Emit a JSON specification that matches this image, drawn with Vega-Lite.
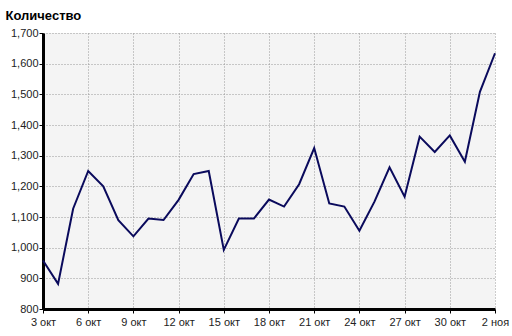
{
  "$schema": "https://vega.github.io/schema/vega-lite/v6.json",
  "width": 452,
  "height": 276,
  "autosize": "none",
  "padding": {"left": 43, "top": 33, "right": 17, "bottom": 27},
  "background": "white",
  "config": {
    "view": {"fill": "#f4f4f4", "stroke": null},
    "font": "Liberation Sans"
  },
  "data": {
    "values": [
      {"date": "2008-10-03", "count": 958},
      {"date": "2008-10-04", "count": 882},
      {"date": "2008-10-05", "count": 1127},
      {"date": "2008-10-06", "count": 1250},
      {"date": "2008-10-07", "count": 1200},
      {"date": "2008-10-08", "count": 1090},
      {"date": "2008-10-09", "count": 1037},
      {"date": "2008-10-10", "count": 1095},
      {"date": "2008-10-11", "count": 1090},
      {"date": "2008-10-12", "count": 1156},
      {"date": "2008-10-13", "count": 1240},
      {"date": "2008-10-14", "count": 1250},
      {"date": "2008-10-15", "count": 993},
      {"date": "2008-10-16", "count": 1095},
      {"date": "2008-10-17", "count": 1095},
      {"date": "2008-10-18", "count": 1157},
      {"date": "2008-10-19", "count": 1134},
      {"date": "2008-10-20", "count": 1207},
      {"date": "2008-10-21", "count": 1325},
      {"date": "2008-10-22", "count": 1144},
      {"date": "2008-10-23", "count": 1134},
      {"date": "2008-10-24", "count": 1055},
      {"date": "2008-10-25", "count": 1150},
      {"date": "2008-10-26", "count": 1262},
      {"date": "2008-10-27", "count": 1166},
      {"date": "2008-10-28", "count": 1362},
      {"date": "2008-10-29", "count": 1312},
      {"date": "2008-10-30", "count": 1366},
      {"date": "2008-10-31", "count": 1280},
      {"date": "2008-11-01", "count": 1508},
      {"date": "2008-11-02", "count": 1634}
    ]
  },
  "mark": {"type": "line", "color": "#0a0a5c", "strokeWidth": 2},
  "encoding": {
    "x": {
      "field": "date",
      "type": "temporal",
      "scale": {"type": "utc", "domain": [{"year": 2008, "month": 10, "date": 3, "utc": true}, {"year": 2008, "month": 11, "date": 2, "utc": true}]},
      "axis": {
        "title": null,
        "values": [
          {"year": 2008, "month": 10, "date": 3, "utc": true},
          {"year": 2008, "month": 10, "date": 6, "utc": true},
          {"year": 2008, "month": 10, "date": 9, "utc": true},
          {"year": 2008, "month": 10, "date": 12, "utc": true},
          {"year": 2008, "month": 10, "date": 15, "utc": true},
          {"year": 2008, "month": 10, "date": 18, "utc": true},
          {"year": 2008, "month": 10, "date": 21, "utc": true},
          {"year": 2008, "month": 10, "date": 24, "utc": true},
          {"year": 2008, "month": 10, "date": 27, "utc": true},
          {"year": 2008, "month": 10, "date": 30, "utc": true},
          {"year": 2008, "month": 11, "date": 2, "utc": true}
        ],
        "labelExpr": "utcdate(datum.value) + (utcmonth(datum.value) == 9 ? ' окт' : ' ноя')",
        "labelFontSize": 11,
        "labelColor": "#222",
        "labelPadding": 3,
        "labelFlush": false,
        "domainColor": "black",
        "domainWidth": 3,
        "tickColor": "black",
        "tickSize": 4,
        "grid": true,
        "gridColor": "#999",
        "gridDash": [1, 2],
        "gridWidth": 1
      }
    },
    "y": {
      "field": "count",
      "type": "quantitative",
      "scale": {"domain": [800, 1700], "nice": false, "zero": false},
      "axis": {
        "values": [800, 900, 1000, 1100, 1200, 1300, 1400, 1500, 1600, 1700],
        "format": ",d",
        "labelFontSize": 11,
        "labelColor": "#222",
        "labelPadding": 1,
        "domainColor": "black",
        "domainWidth": 3,
        "tickColor": "black",
        "tickSize": 4,
        "grid": true,
        "gridColor": "#999",
        "gridDash": [1, 2],
        "gridWidth": 1,
        "title": "Количество",
        "titleAngle": 0,
        "titleAlign": "left",
        "titleBaseline": "alphabetic",
        "titleX": -38,
        "titleY": -14,
        "titleFontSize": 13,
        "titleFontWeight": "bold",
        "titleColor": "black"
      }
    }
  }
}
